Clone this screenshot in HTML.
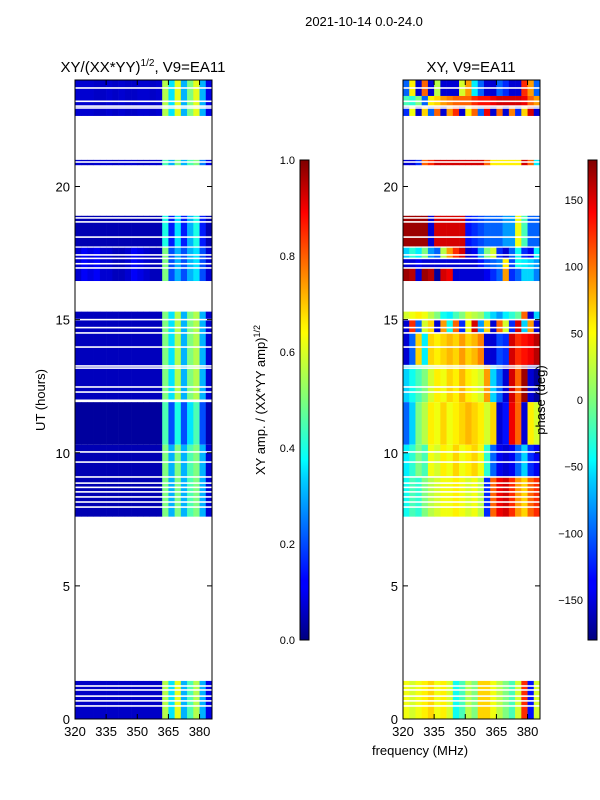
<!DOCTYPE html>
<html><head><meta charset="utf-8"><style>
body{margin:0;background:#fff;}
svg{display:block;font-family:"Liberation Sans",sans-serif;}
</style></head><body>
<svg id="chart" width="600" height="800" viewBox="0 0 600 800" xmlns="http://www.w3.org/2000/svg">
<defs>
<linearGradient id="jet" x1="0" y1="1" x2="0" y2="0">
<stop offset="0" stop-color="#00007f"/><stop offset="0.11" stop-color="#0000ff"/><stop offset="0.125" stop-color="#0000ff"/>
<stop offset="0.34" stop-color="#00d4ff"/><stop offset="0.375" stop-color="#0ff"/><stop offset="0.5" stop-color="#7dff7a"/>
<stop offset="0.64" stop-color="#ff0"/><stop offset="0.66" stop-color="#fff000"/><stop offset="0.89" stop-color="#f00"/><stop offset="1" stop-color="#7f0000"/>
</linearGradient>
</defs>
<text x="364" y="26" font-size="13" text-anchor="middle">2021-10-14 0.0-24.0</text>
<text x="143" y="72" font-size="15" text-anchor="middle">XY/(XX*YY)<tspan font-size="10" dy="-6">1/2</tspan><tspan dy="6">, V9=EA11</tspan></text>
<text x="471" y="72" font-size="15" text-anchor="middle">XY, V9=EA11</text>
<g id="ampCells"></g>
<g id="phCells"></g>
<g id="axes"></g>
<rect x="300" y="160" width="9" height="480" fill="url(#jet)" stroke="#000" stroke-width="1"/>
<rect x="588" y="160" width="9" height="480" fill="url(#jet)" stroke="#000" stroke-width="1"/>
<text transform="translate(45,400) rotate(-90)" font-size="13" text-anchor="middle">UT (hours)</text>
<text transform="translate(265,400) rotate(-90)" font-size="13" text-anchor="middle">XY amp. / (XX*YY amp)<tspan font-size="9" dy="-5">1/2</tspan></text>
<text transform="translate(545,400) rotate(-90)" font-size="13" text-anchor="middle">phase (deg)</text>
<text x="420" y="755" font-size="13" text-anchor="middle">frequency (MHz)</text>
</svg>
<script>
const freqStart = [320,323,326,329,332,335,338,341,344,347,350,353,356,359,362,365,368,371,374,377,380,383];
const hourTicks = [0,5,10,15,20];
const freqTicks = [320,335,350,365,380];
const ampTicks = [0.0,0.2,0.4,0.6,0.8,1.0];
const phaseTicks = [-150,-100,-50,0,50,100,150];
const ampBlocks = [
 [22.65,24,[0.08,0.08,0.08,0.07,0.07,0.08,0.07,0.08,0.07,0.07,0.08,0.08,0.07,0.08,0.55,0.35,0.6,0.3,0.5,0.6,0.3,0.1]],
 [20.8,21.0,[0.08,0.07,0.07,0.08,0.08,0.08,0.07,0.08,0.08,0.08,0.07,0.07,0.08,0.08,0.45,0.3,0.5,0.3,0.45,0.5,0.25,0.1]],
 [17.75,18.9,[0.05,0.05,0.05,0.05,0.05,0.05,0.05,0.05,0.05,0.05,0.05,0.05,0.05,0.05,0.4,0.15,0.35,0.15,0.3,0.4,0.15,0.05]],
 [16.45,17.7,[0.08,0.12,0.1,0.12,0.08,0.08,0.06,0.06,0.08,0.12,0.1,0.08,0.06,0.06,0.5,0.2,0.3,0.2,0.3,0.35,0.2,0.08]],
 [12.0,15.3,[0.06,0.06,0.06,0.06,0.06,0.06,0.06,0.06,0.06,0.06,0.06,0.06,0.06,0.06,0.5,0.35,0.55,0.3,0.5,0.55,0.3,0.08]],
 [10.3,11.9,[0.03,0.03,0.03,0.03,0.03,0.03,0.03,0.03,0.03,0.03,0.03,0.03,0.03,0.03,0.45,0.2,0.4,0.2,0.35,0.45,0.2,0.05]],
 [7.6,10.3,[0.05,0.05,0.05,0.05,0.05,0.05,0.05,0.05,0.05,0.05,0.05,0.05,0.05,0.05,0.5,0.3,0.5,0.3,0.45,0.5,0.3,0.08]],
 [0,1.43,[0.07,0.07,0.07,0.07,0.07,0.07,0.07,0.07,0.07,0.07,0.07,0.07,0.07,0.07,0.55,0.35,0.6,0.3,0.45,0.55,0.3,0.1]]
];
const phaseBlocks = [
 [23.4,24,[-100,50,-150,100,-150,20,-150,-150,-150,30,80,-50,-100,-150,-150,-100,-120,-150,-150,120,80,-100]],
 [23.0,23.4,[-20,-30,0,-100,50,60,80,90,100,100,100,120,130,130,140,150,150,150,150,140,100,80]],
 [22.65,23.0,[-120,40,-150,60,-100,100,-150,80,120,-150,50,100,-100,140,-150,100,-150,90,-120,60,150,-150]],
 [20.8,21.0,[-150,-150,-120,100,120,150,150,150,150,150,150,150,150,100,50,50,50,50,50,150,100,-50]],
 [17.75,18.9,[170,170,170,170,-150,150,150,150,150,150,-130,-120,-110,-100,-100,-100,-80,-80,40,-20,-100,-100]],
 [17.3,17.7,[-60,-30,-50,0,-80,-100,20,80,120,150,-150,-140,-80,0,30,-120,-150,-100,-40,-120,-140,-50]],
 [16.95,17.3,[-150,-150,-140,-150,-150,-150,-150,-150,-150,-150,-150,-150,-130,-110,-100,-90,50,-110,-40,-50,-60,-80]],
 [16.45,16.95,[170,160,-150,170,160,-170,150,140,-150,-150,-150,-150,-150,-140,-120,-100,80,-120,-100,-60,-60,-90]],
 [15.0,15.3,[30,40,50,40,20,0,-40,-50,-20,0,30,20,10,-30,-60,-80,-50,-30,-10,100,-150,-60]],
 [14.5,15.0,[-150,120,-100,30,60,-150,80,-40,100,-120,40,150,-80,60,-150,100,30,-120,150,-60,80,-150]],
 [13.3,14.5,[-150,-100,60,-50,60,50,60,70,60,80,60,70,90,-150,-150,-110,-120,150,120,130,140,160]],
 [11.9,13.3,[-60,-40,-20,0,30,50,40,60,50,70,50,40,30,80,-60,-100,-150,150,100,170,-150,-170]],
 [10.3,11.9,[-100,-60,0,20,50,40,60,40,50,60,70,60,50,30,60,-150,-130,140,100,-150,50,30]],
 [9.1,10.3,[-50,-30,0,-20,40,30,50,40,60,40,50,60,40,-30,-100,-140,-150,-140,-100,-60,-120,-140]],
 [7.6,9.1,[-40,-20,-30,0,20,30,40,40,50,40,30,40,20,-120,100,140,150,120,80,60,100,120]],
 [0,1.43,[40,30,40,50,60,40,50,30,-40,-20,20,0,60,60,40,20,0,-20,30,120,-130,30]]
];
const gapLines = [23.7,23.2,23.02,22.95,20.92,18.82,18.67,18.1,17.43,17.3,17.1,16.94,15.0,14.7,14.5,13.97,13.26,13.18,12.47,12.28,10.03,9.65,9.09,8.86,8.7,8.53,8.34,8.15,7.96,1.24,1.09,0.86,0.68,0.49];

const NS='http://www.w3.org/2000/svg';
const panels=[{x0:75,x1:212,cells:'ampCells'},{x0:403,x1:540,cells:'phCells'}];
const yTop=80,yBot=719,fMin=320,fMax=386,hMax=24;
function ys(h){return yBot-(h/hMax)*(yBot-yTop);}
function xs(p,f){return p.x0+(f-fMin)/(fMax-fMin)*(p.x1-p.x0);}
function clip(v){return Math.max(0,Math.min(1,v));}
function jet(v){const r=clip(1.5-Math.abs(4*v-3)),g=clip(1.5-Math.abs(4*v-2)),b=clip(1.5-Math.abs(4*v-1));
 return 'rgb('+Math.round(r*255)+','+Math.round(g*255)+','+Math.round(b*255)+')';}
function mk(tag,attrs,parent){const e=document.createElementNS(NS,tag);for(const k in attrs)e.setAttribute(k,attrs[k]);parent.appendChild(e);return e;}
function drawBlocks(p,blocks,norm){
 const g=document.getElementById(p.cells);
 blocks.forEach(b=>{
  b[2].forEach((v,i)=>{
   const f0=freqStart[i],f1=i+1<freqStart.length?freqStart[i+1]:fMax;
   const r=mk('rect',{x:xs(p,f0),y:ys(b[1]),width:xs(p,f1)-xs(p,f0)+0.3,height:ys(b[0])-ys(b[1]),fill:jet(norm(v))},g);
   
   
  });
 });
 gapLines.forEach(h=>{
  const r=mk('rect',{x:p.x0,y:ys(h)-0.8,width:p.x1-p.x0,height:1.6,fill:'#fff'},g);
  
  
 });
}
drawBlocks(panels[0],ampBlocks,v=>v);
drawBlocks(panels[1],phaseBlocks,v=>(v+180)/360);
const ax=document.getElementById('axes');
panels.forEach((p,pi)=>{
 const fr=mk('rect',{x:p.x0,y:yTop,width:p.x1-p.x0,height:yBot-yTop,fill:'none',stroke:'#000','stroke-width':1},ax);
 
 
 hourTicks.forEach(h=>{
  const y=ys(h);
  mk('line',{x1:p.x0,y1:y,x2:p.x0+5,y2:y,stroke:'#000'},ax);
  mk('line',{x1:p.x1,y1:y,x2:p.x1-5,y2:y,stroke:'#000'},ax);
  const t=mk('text',{x:p.x0-5,y:y+5,'font-size':13,'text-anchor':'end'},ax);
  t.textContent=h;
  
  
 });
 freqTicks.forEach(f=>{
  const x=xs(p,f);
  mk('line',{x1:x,y1:yBot,x2:x,y2:yBot-5,stroke:'#000'},ax);
  mk('line',{x1:x,y1:yTop,x2:x,y2:yTop+5,stroke:'#000'},ax);
  const t=mk('text',{x:x,y:yBot+17,'font-size':13,'text-anchor':'middle'},ax);
  t.textContent=f;
  
  
 });
});
function cbTicks(x,vals,lo,hi,fmt){
 vals.forEach(v=>{
  const y=640-(v-lo)/(hi-lo)*480;
  mk('line',{x1:x,y1:y,x2:x+3,y2:y,stroke:'#000'},ax);
  mk('line',{x1:x+9,y1:y,x2:x+6,y2:y,stroke:'#000'},ax);
  const t=mk('text',{x:x-5,y:y+4,'font-size':11,'text-anchor':'end'},ax);
  t.textContent=fmt(v);
  
  
 });
}
cbTicks(300,ampTicks,0,1,v=>v.toFixed(1));
cbTicks(588,phaseTicks,-180,180,v=>v<0?'\u2212'+(-v):String(v));
</script>
</body></html>
